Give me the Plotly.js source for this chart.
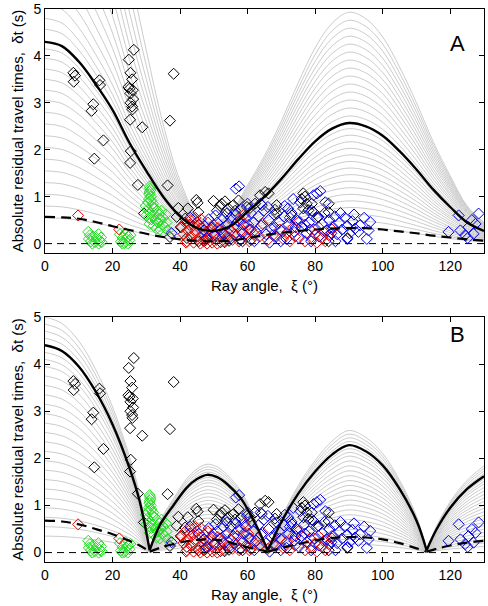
<!DOCTYPE html>
<html><head><meta charset="utf-8">
<script src="https://cdn.plot.ly/plotly-3.0.1.min.js"></script>
<style>html,body{margin:0;padding:0;background:#fff}#chart{width:488px;height:606px}</style>
</head><body><div id="chart"></div>
<script>
// ---------- model curves, panel A ----------
const angleA = [0,5,10,15,20,25,30,35,40,45,50,55,60,65,70,75,80,85,90,95,100,105,110,115,120,125,130];
const blackA = [4.30,4.21,3.88,3.40,2.85,2.15,1.55,1.00,0.58,0.33,0.27,0.38,0.68,1.00,1.38,1.80,2.18,2.45,2.57,2.50,2.30,1.97,1.58,1.15,0.78,0.45,0.27];
const dashA  = [0.57,0.56,0.53,0.46,0.37,0.29,0.21,0.14,0.09,0.06,0.05,0.06,0.12,0.18,0.23,0.27,0.30,0.32,0.33,0.33,0.30,0.26,0.22,0.17,0.13,0.09,0.06];
// grey family, panel A: level at 0 deg, level at 90 deg, minimum level
const grayA_L0  = [0.55,0.80,1.05,1.30,1.55,1.80,2.05,2.30,2.55,2.80,3.05,3.27,3.50,3.72,3.95,4.15,4.57,4.80,5.10,5.45,5.85,6.30,6.80,7.35,7.95,8.60,9.30,10.1,11.0,12.0];
const grayA_L90 = [0.35,0.49,0.63,0.77,0.91,1.05,1.19,1.33,1.47,1.61,1.75,1.89,2.03,2.17,2.31,2.45,2.72,2.89,3.06,3.23,3.40,3.57,3.74,3.91,4.08,4.25,4.42,4.59,4.76,4.93];
const grayA_min = [0.04,0.05,0.06,0.08,0.09,0.11,0.12,0.14,0.15,0.17,0.19,0.20,0.22,0.23,0.25,0.26,0.29,0.30,0.32,0.33,0.35,0.36,0.38,0.39,0.40,0.41,0.42,0.43,0.44,0.45];

// ---------- model curves, panel B ----------
const angleB = [0,5,10,15,20,25,28,31,34,38,42,45,48,51,54,58,62,66,70,75,80,85,90,95,100,105,110,113,116,120,125,130];
const blackB = [4.40,4.28,3.95,3.42,2.72,1.80,1.10,0.05,0.58,1.00,1.38,1.56,1.65,1.60,1.45,1.15,0.65,0.05,0.65,1.25,1.72,2.08,2.28,2.15,1.85,1.35,0.68,0.05,0.50,0.95,1.35,1.62];
const dashB  = [0.68,0.66,0.60,0.50,0.39,0.25,0.15,0.02,0.10,0.18,0.24,0.27,0.28,0.27,0.23,0.15,0.08,0.02,0.10,0.18,0.26,0.31,0.33,0.32,0.28,0.20,0.09,0.02,0.08,0.15,0.21,0.25];
const grayB_L0 = [0.35,0.55,0.75,0.95,1.15,1.35,1.55,1.75,1.95,2.15,2.35,2.55,2.75,2.95,3.15,3.35,3.55,3.75,3.95,4.10,4.25,4.55,4.70,4.85,5.00];

// ---------- observations (same in both panels) ----------
const blackX = [8.4,8.9,8.5,16.1,16.3,14.3,13.8,17.3,14.6,26.3,24.8,25.3,25.8,24.7,25.0,26.0,25.3,26.1,25.3,25.8,25.9,25.2,28.8,38.1,37.0,25.4,25.2,27.5,36.3,29.3,39.5,42.3,44.8,45.2,45.4,41.5,39.0,37.0,40.2,49.9,51.9,53.3,50.9,53.8,52.3,54.3,55.8,57.3,56.3,59.8,60.7,63.7,65.2,64.2,62.2,66.2,68.6,68.6,68.1,73.1,76.5,77.0,76.0,77.5,78.0,79.5,81.0,79.0,84.0,84.0,76.5,89.5,84.0,45.5,47.5,52.0,53.2,54.5,42.0,58.5,61.0];
const blackY = [3.64,3.58,3.45,3.48,3.38,2.97,2.83,2.20,1.81,4.13,3.92,3.64,3.50,3.34,3.30,3.27,3.20,3.08,3.00,2.92,2.86,2.64,2.48,3.62,2.62,1.97,1.72,1.25,1.24,0.64,0.76,0.75,0.93,0.87,0.67,0.53,0.57,0.14,0.35,0.91,0.80,0.90,0.70,0.64,0.85,0.75,0.82,0.92,0.70,0.78,0.76,1.03,1.10,0.82,0.85,1.07,0.82,0.64,0.72,0.60,1.07,1.00,0.95,0.85,0.71,0.67,0.57,0.85,0.85,0.67,0.75,0.10,0.05,0.05,0.07,0.03,0.03,0.06,0.12,0.05,0.08];

const greenX = [12.8,13.0,13.6,14.2,14.8,15.3,15.8,16.2,16.6,14.0,15.9,16.8,13.3,22.2,22.5,23.0,23.5,24.0,24.5,25.0,25.3,23.8,24.6,22.9,31.0,31.1,31.2,31.0,30.9,31.3,30.8,31.5,32.0,30.5,31.8,32.5,30.3,33.2,31.2,32.0,33.8,30.0,31.5,32.8,34.2,35.0,33.5,31.0,32.2,34.8,35.5,36.0,33.0,34.0,36.3,29.8,30.7,35.8,34.5];
const greenY = [0.25,0.10,0.05,0.15,0.03,0.12,0.20,0.06,0.13,0.00,0.00,0.03,0.18,0.20,0.04,0.12,0.01,0.10,0.00,0.07,0.18,0.22,0.15,0.00,1.22,1.18,1.14,1.10,1.05,1.00,0.95,0.92,0.85,0.88,0.78,0.75,0.72,0.70,0.65,0.60,0.62,0.60,0.52,0.50,0.52,0.55,0.45,0.42,0.38,0.40,0.35,0.45,0.32,0.30,0.28,0.80,0.55,0.62,0.70];

const redX = [9.8,22.0,40.5,41.5,41.0,42.0,42.3,43.0,43.2,43.8,44.0,44.5,45.0,45.3,45.8,46.2,46.5,47.0,47.2,47.8,48.2,48.5,49.0,49.5,49.8,50.3,50.8,51.2,51.8,52.5,53.0,53.5,54.0,55.0,55.5,56.2,57.0,57.5,58.0,58.3,59.0,59.5,60.2,61.0,60.5,62.0,41.8,46.0,48.0,51.0,44.5,42.8,66.0,67.5,69.5,70.5,71.5,72.5,73.5,74.0,78.5,79.0,80.0,80.5,81.0,82.0,82.5,83.0,84.0,85.0,75.0,77.0,63.5,64.5];
const redY = [0.60,0.30,0.35,0.45,0.20,0.05,0.28,0.50,0.15,0.38,0.02,0.25,0.45,0.10,0.32,0.52,0.18,0.05,0.38,0.25,0.45,0.12,0.30,0.02,0.40,0.20,0.08,0.33,0.15,0.25,0.05,0.38,0.15,0.28,0.08,0.20,0.35,0.05,0.50,0.25,0.62,0.15,0.40,0.30,0.05,0.20,0.02,0.00,0.00,0.00,0.55,0.40,0.08,0.18,0.30,0.10,0.22,0.05,0.35,0.15,0.30,0.10,0.20,0.02,0.35,0.12,0.25,0.05,0.18,0.30,0.45,0.05,0.15,0.42];

const blueX = [37.5,43.0,56.5,57.5,80.5,81.5,79.5,75.6,45.5,47.0,48.5,49.5,50.5,51.0,52.0,52.8,53.5,54.2,55.0,55.8,56.5,57.2,58.0,58.8,59.5,60.3,61.0,61.8,62.5,63.2,64.0,64.8,65.5,66.2,67.0,67.8,68.5,69.2,70.0,70.8,71.5,72.2,73.0,73.8,74.5,75.2,76.0,76.8,77.5,78.2,79.0,79.8,80.5,81.2,82.0,82.8,83.5,84.2,85.0,85.8,86.5,87.2,88.0,88.8,89.5,90.2,91.0,91.8,92.8,93.3,94.5,95.3,95.8,96.3,54.5,57.8,62.0,66.5,69.8,74.2,78.8,86.0,89.6,60.0,63.8,66.0,71.0,83.0,47.8,50.0,53.0,58.5,68.0,72.5,77.0,84.8,87.5,91.5,73.5,72.0,119.5,122.5,123.0,124.4,125.4,126.4,126.9,127.5,128.4,125.2];
const blueY = [0.22,0.55,1.17,1.22,1.07,1.12,1.03,0.88,0.40,0.28,0.52,0.35,0.60,0.45,0.30,0.55,0.68,0.42,0.55,0.35,0.62,0.48,0.72,0.40,0.55,0.30,0.65,0.45,0.25,0.58,0.38,0.70,0.20,0.50,0.32,0.62,0.15,0.45,0.28,0.58,0.10,0.40,0.65,0.25,0.50,0.12,0.35,0.60,0.22,0.45,0.70,0.30,0.55,0.15,0.42,0.65,0.28,0.50,0.35,0.58,0.20,0.45,0.30,0.55,0.38,0.22,0.48,0.32,0.25,0.39,0.55,0.10,0.28,0.46,0.12,0.08,0.05,0.02,0.05,0.35,0.05,0.05,0.12,0.85,0.85,0.78,0.80,0.88,0.12,0.18,0.20,0.22,0.35,0.55,0.40,0.22,0.65,0.62,0.95,0.75,0.25,0.60,0.28,0.18,0.35,0.50,0.21,0.42,0.64,0.12];

const xTicks = [0,20,40,60,80,100,120];
const yTicks = [0,1,2,3,4,5];

// ---------- build traces ----------
const traces = [];
function splitCusps(xs, ys) {
  const ox = [], oy = [];
  for (let i = 0; i < xs.length; i++) {
    ox.push(xs[i]); oy.push(ys[i]);
    if (i > 0 && i < xs.length - 1 && ys[i] < ys[i-1] && ys[i] < ys[i+1]) {
      ox.push(null); oy.push(null); ox.push(xs[i]); oy.push(ys[i]);
    }
  }
  return [ox, oy];
}
function line(xs, ys, ax, color, width, dash) {
  return {x: xs, y: ys, xaxis: 'x' + ax, yaxis: 'y' + ax, mode: 'lines', type: 'scatter',
    line: {color: color, width: width, dash: dash || 'solid', shape: 'spline', smoothing: 1},
    hoverinfo: 'skip', showlegend: false, connectgaps: false, cliponaxis: true};
}
function marks(xs, ys, ax, color) {
  return {x: xs, y: ys, xaxis: 'x' + ax, yaxis: 'y' + ax, mode: 'markers', type: 'scatter',
    marker: {symbol: 'diamond-open', size: 8.5, color: color, line: {width: 1, color: color}},
    hoverinfo: 'skip', showlegend: false};
}
const GREY = '#cccccc';
// Panel A grey family
const iMinA = blackA.indexOf(Math.min(...blackA));
const bminA = blackA[iMinA], b0A = blackA[0], b90A = blackA[angleA.indexOf(90)];
for (let k = 0; k < grayA_L0.length; k++) {
  const ys = blackA.map((b, i) => {
    const lvl = i <= iMinA ? grayA_L0[k] : grayA_L90[k];
    const ref = i <= iMinA ? b0A : b90A;
    return grayA_min[k] + (lvl - grayA_min[k]) * (b - bminA) / (ref - bminA);
  });
  traces.push(line(angleA, ys, '', GREY, 1));
}
// Panel B grey family
for (let k = 0; k < grayB_L0.length; k++) {
  const ys = blackB.map(b => b * grayB_L0[k] / blackB[0]);
  const s = splitCusps(angleB, ys);
  traces.push(line(s[0], s[1], '2', GREY, 1));
}
['', '2'].forEach(ax => {
  traces.push(marks(blackX, blackY, ax, '#000000'));
  traces.push(marks(greenX, greenY, ax, '#22dd22'));
  traces.push(marks(redX, redY, ax, '#e60000'));
  traces.push(marks(blueX, blueY, ax, '#0000e6'));
  traces.push(line([0, 130], [0, 0], ax, '#000000', 1, '7px,5px'));
});
traces.push(line(angleA, blackA, '', '#000000', 2.4));
traces.push(line(angleA, dashA, '', '#000000', 2.2, '10px,6px'));
let sb = splitCusps(angleB, blackB);
traces.push(line(sb[0], sb[1], '2', '#000000', 2.4));
let sd = splitCusps(angleB, dashB);
traces.push(line(sd[0], sd[1], '2', '#000000', 2.2, '10px,6px'));

const FONT = 'Liberation Sans, Arial, Helvetica, sans-serif';
function xax(anchor) {
  return {range: [0, 130], tickvals: xTicks, ticktext: xTicks.map(String), anchor: anchor,
    showline: true, linecolor: '#000', linewidth: 1, mirror: 'ticks', ticks: 'inside', ticklen: 5,
    tickcolor: '#000', showgrid: false, zeroline: false, tickfont: {size: 14, color: '#000'},
    title: {text: 'Ray angle,  ξ (°)', font: {size: 15, color: '#000'}, standoff: 7}, automargin: false};
}
function yax(anchor, domain) {
  return {range: [-0.2, 5], tickvals: yTicks, ticktext: yTicks.map(String), anchor: anchor, domain: domain,
    showline: true, linecolor: '#000', linewidth: 1, mirror: 'ticks', ticks: 'inside', ticklen: 5,
    tickcolor: '#000', showgrid: false, zeroline: false, tickfont: {size: 14, color: '#000'},
    title: {text: 'Absolute residual travel times,  δt (s)', font: {size: 15, color: '#000'}, standoff: 6}, automargin: false};
}
const layout = {
  width: 488, height: 606, margin: {l: 45, r: 4, t: 9, b: 44},
  paper_bgcolor: '#fff', plot_bgcolor: '#fff', font: {family: FONT, color: '#000'},
  xaxis: xax('y'), yaxis: yax('x', [0.5588, 1]),
  xaxis2: xax('y2'), yaxis2: yax('x2', [0, 0.443]),
  showlegend: false,
  annotations: [
    {text: 'A', xref: 'paper', yref: 'paper', x: 0.961, y: 0.964, showarrow: false, font: {size: 22, color: '#000'}},
    {text: 'B', xref: 'paper', yref: 'paper', x: 0.961, y: 0.4105, showarrow: false, font: {size: 22, color: '#000'}}
  ]
};
Plotly.newPlot('chart', traces, layout, {staticPlot: true, displayModeBar: false});
</script></body></html>
